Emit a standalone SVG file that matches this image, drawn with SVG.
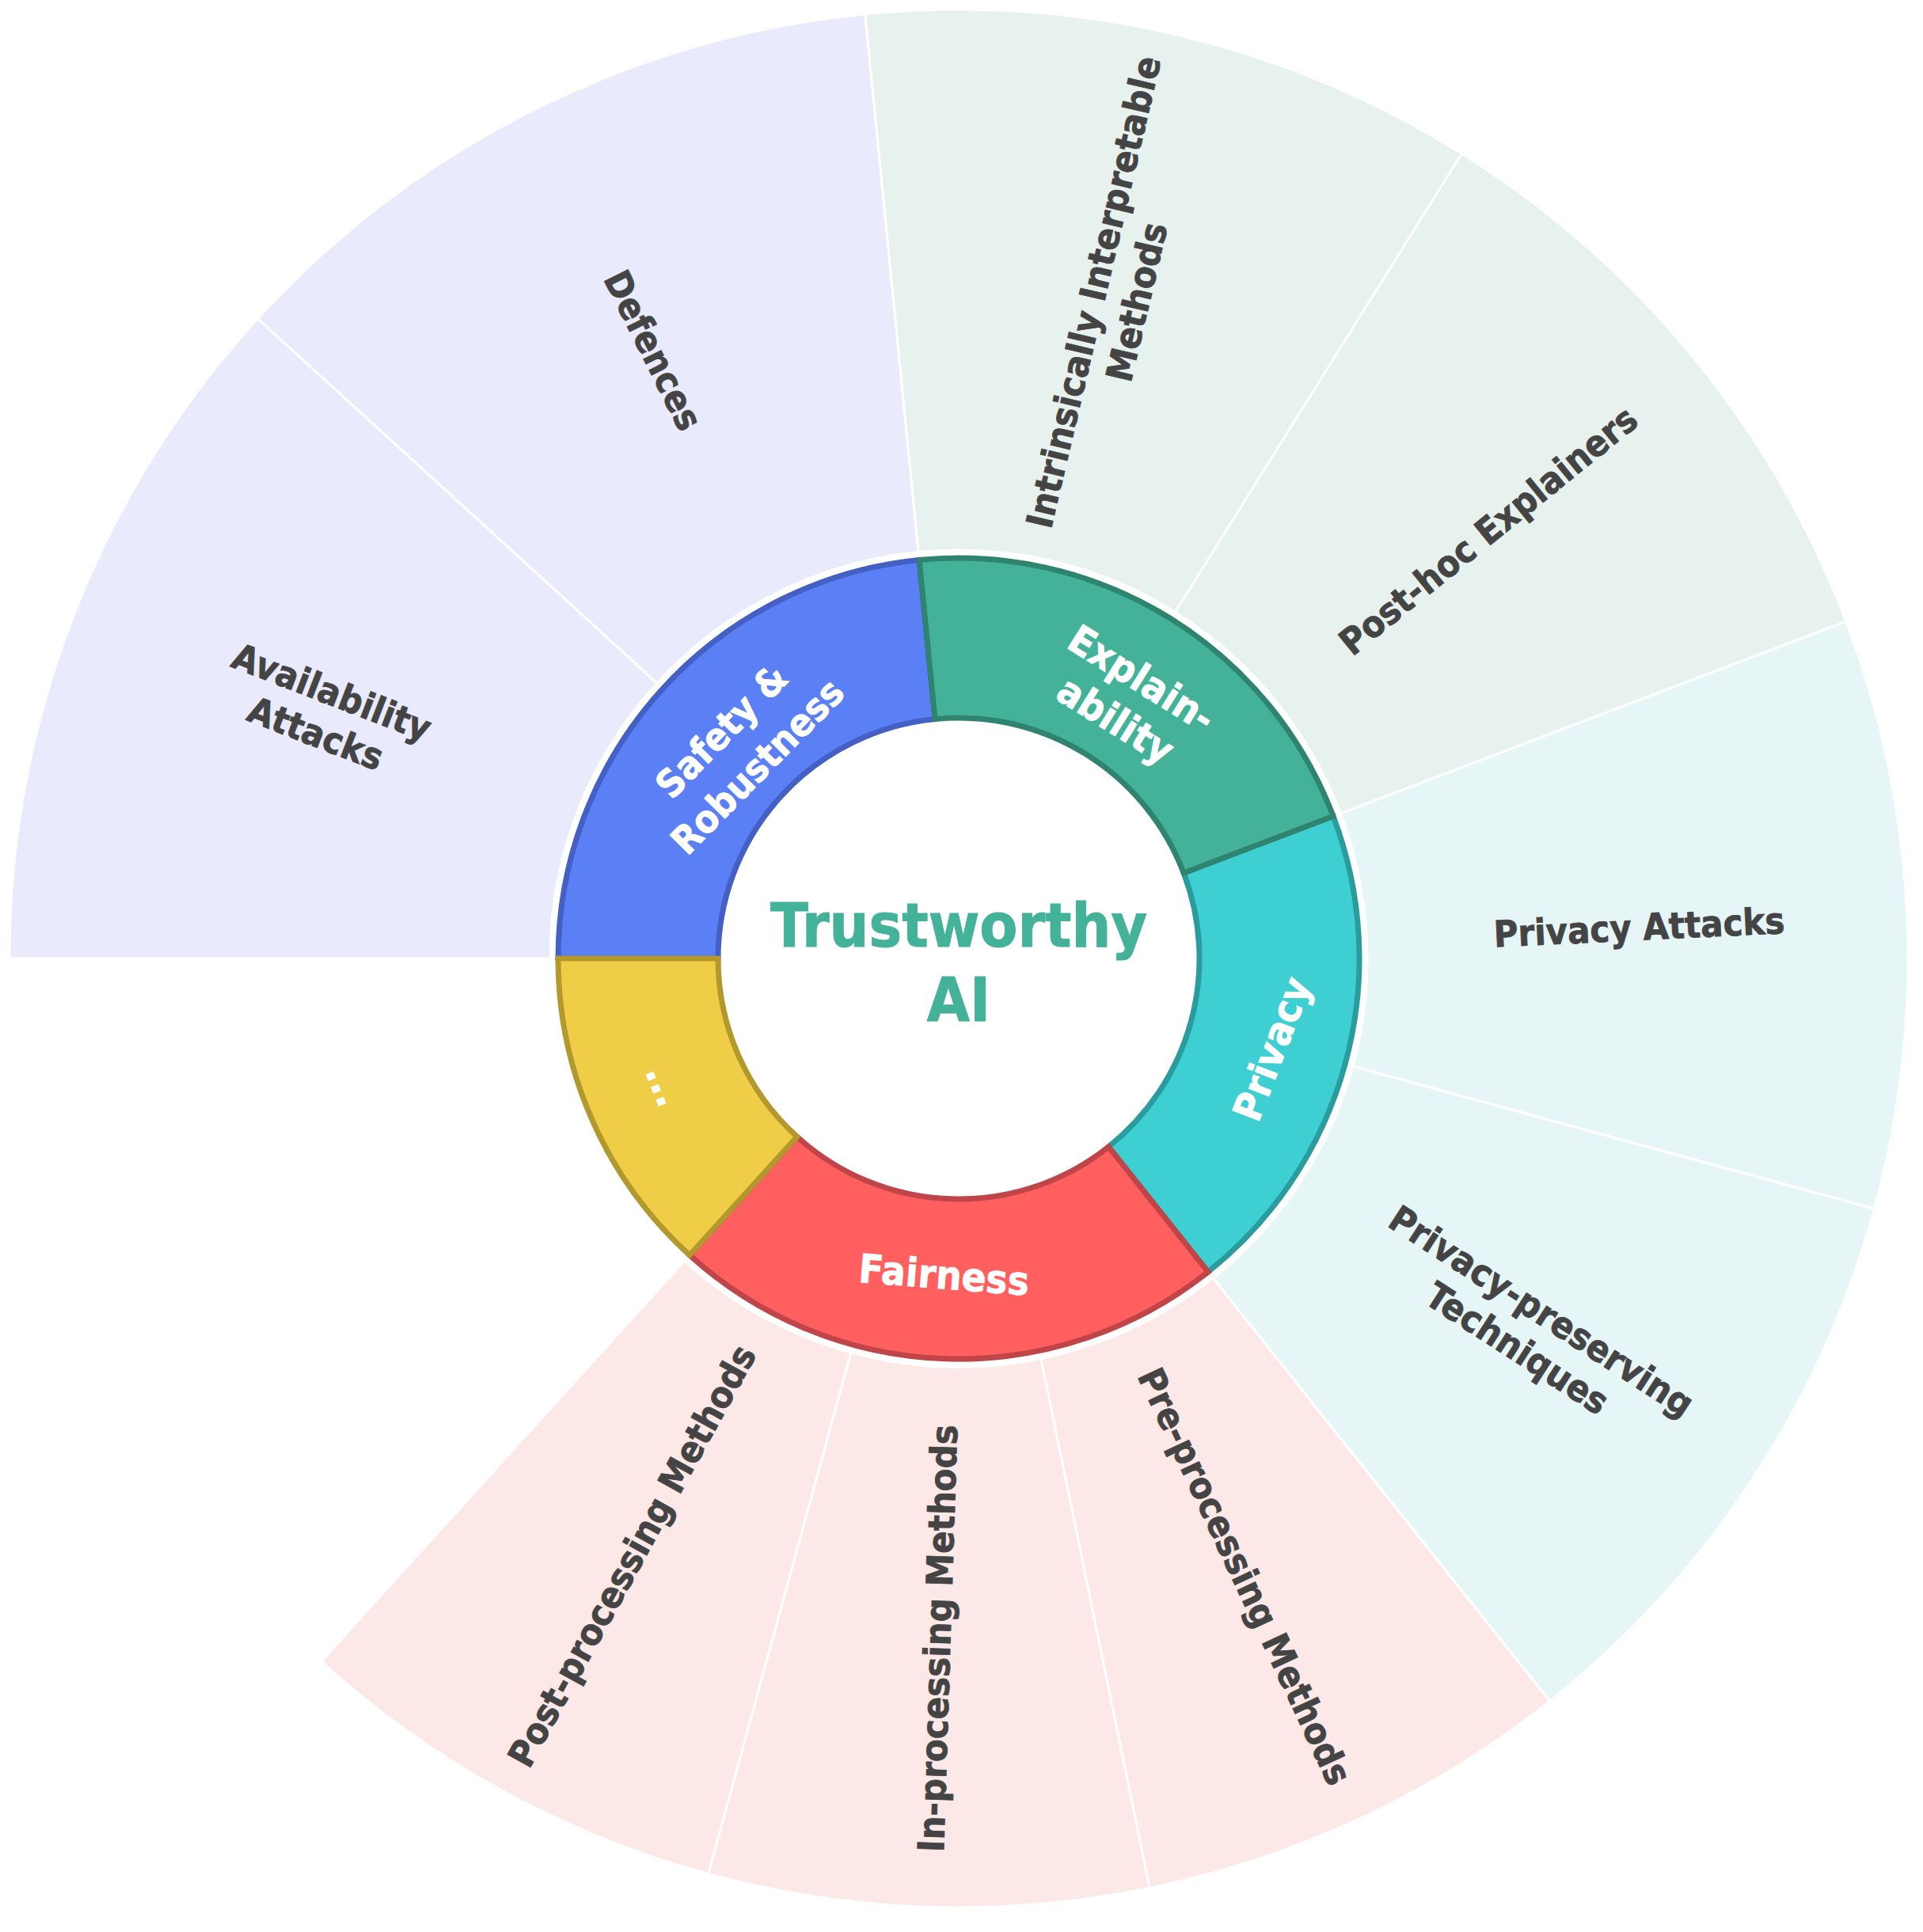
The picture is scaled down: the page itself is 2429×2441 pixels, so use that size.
<svg xmlns="http://www.w3.org/2000/svg" width="2429" height="2441" viewBox="0 0 2429 2441">
<style>
.t{font-family:"DejaVu Sans",Verdana,sans-serif;font-weight:bold;text-anchor:middle}
.ol{font-size:46px;fill:#444444;stroke:#444444;stroke-width:0.8}
.rl{font-size:50px;fill:#ffffff;stroke:#ffffff;stroke-width:0.8}
.ct{font-size:77px;fill:#43B298;stroke:#43B298;stroke-width:1}
.os{stroke:#ffffff;stroke-width:3}
.rs{stroke-width:7;stroke-linejoin:miter}
</style>
<rect width="2429" height="2441" fill="#ffffff"/>
<g id="outer-ring">
<g id="availability-attacks">
<path class="os" fill="#E9EAFB" d="M12,1211 A1199,1199 0 0 1 325.59,402.51 L829.96,863.06 A516,516 0 0 0 695,1211 Z"/>
<g transform="translate(409.2,900) rotate(21.2)"><text class="t ol" transform="scale(0.915,1)"><tspan x="0" y="-11.2">Availability</tspan><tspan x="0" y="44.8">Attacks</tspan></text></g>
</g>
<g id="defences">
<path class="os" fill="#E9EAFB" d="M325.59,402.51 A1199,1199 0 0 1 1092.75,17.85 L1160.11,697.52 A516,516 0 0 0 829.96,863.06 Z"/>
<g transform="translate(825.6,442.2) rotate(63.37)"><text class="t ol" transform="scale(0.915,1)" x="0" y="16.8">Defences</text></g>
</g>
<g id="intrinsically-interpretable-methods">
<path class="os" fill="#E7F1EE" d="M1092.75,17.85 A1199,1199 0 0 1 1846.37,194.19 L1484.44,773.41 A516,516 0 0 0 1160.11,697.52 Z"/>
<g transform="translate(1408,375) rotate(-76.83)"><text class="t ol" transform="scale(0.915,1)"><tspan x="0" y="-11.2">Intrinsically Interpretable</tspan><tspan x="0" y="44.8">Methods</tspan></text></g>
</g>
<g id="post-hoc-explainers">
<path class="os" fill="#E7F1EE" d="M1846.37,194.19 A1199,1199 0 0 1 2331.86,785.22 L1693.37,1027.76 A516,516 0 0 0 1484.44,773.41 Z"/>
<g transform="translate(1879.3,669.8) rotate(-39)"><text class="t ol" transform="scale(0.915,1)" x="0" y="16.8">Post-hoc Explainers</text></g>
</g>
<g id="privacy-attacks">
<path class="os" fill="#E6F5F6" d="M2331.86,785.22 A1199,1199 0 0 1 2367.52,1527.38 L1708.72,1347.16 A516,516 0 0 0 1693.37,1027.76 Z"/>
<g transform="translate(2070.4,1171) rotate(-2.75)"><text class="t ol" transform="scale(0.915,1)" x="0" y="16.8">Privacy Attacks</text></g>
</g>
<g id="privacy-preserving-techniques">
<path class="os" fill="#E6F5F6" d="M2367.52,1527.38 A1199,1199 0 0 1 1957.39,2149.35 L1532.22,1614.83 A516,516 0 0 0 1708.72,1347.16 Z"/>
<g transform="translate(1932.3,1679.4) rotate(33)"><text class="t ol" transform="scale(0.915,1)"><tspan x="0" y="-11.2">Privacy-preserving</tspan><tspan x="0" y="44.8">Techniques</tspan></text></g>
</g>
<g id="pre-processing-methods">
<path class="os" fill="#FDE8E8" d="M1957.39,2149.35 A1199,1199 0 0 1 1452.09,2385.52 L1314.76,1716.46 A516,516 0 0 0 1532.22,1614.83 Z"/>
<g transform="translate(1573,1991.5) rotate(64.95)"><text class="t ol" transform="scale(0.915,1)" x="0" y="16.8">Pre-processing Methods</text></g>
</g>
<g id="in-processing-methods">
<path class="os" fill="#FDE8E8" d="M1452.09,2385.52 A1199,1199 0 0 1 894.62,2367.51 L1074.84,1708.71 A516,516 0 0 0 1314.76,1716.46 Z"/>
<g transform="translate(1183.8,2070) rotate(-88.15)"><text class="t ol" transform="scale(0.915,1)" x="0" y="16.8">In-processing Methods</text></g>
</g>
<g id="post-processing-methods">
<path class="os" fill="#FDE8E8" d="M894.62,2367.51 A1199,1199 0 0 1 405.61,2099.22 L864.39,1593.25 A516,516 0 0 0 1074.84,1708.71 Z"/>
<g transform="translate(797.6,1965.4) rotate(-61.25)"><text class="t ol" transform="scale(0.915,1)" x="0" y="16.8">Post-processing Methods</text></g>
</g>
</g>
<g id="inner-ring">
<g id="safety-robustness">
<path class="rs" fill="#5B7FF5" stroke="#4460C4" d="M705,1211 A506,506 0 0 1 1161.10,707.47 L1181.02,908.48 A304,304 0 0 0 907,1211 Z"/>
<g transform="translate(933,945) rotate(-45.5)"><text class="t rl" style="font-size:48px" transform="scale(0.915,1)"><tspan x="0" y="-13.5">Safety &amp;</tspan><tspan x="0" y="50">Robustness</tspan></text></g>
</g>
<g id="privacy">
<path class="rs" fill="#3ECFD2" stroke="#2B9C9E" d="M1684.02,1031.31 A506,506 0 0 1 1525.99,1607.00 L1400.24,1448.91 A304,304 0 0 0 1495.19,1103.05 Z"/>
<g transform="translate(1606,1325) rotate(-69)"><text class="t rl" transform="scale(0.915,1)" x="0" y="18.25">Privacy</text></g>
</g>
<g id="explainability">
<path class="rs" fill="#43B298" stroke="#2F8470" d="M1161.10,707.47 A506,506 0 0 1 1684.02,1031.31 L1495.19,1103.05 A304,304 0 0 0 1181.02,908.48 Z"/>
<g transform="translate(1426,883) rotate(32)"><text class="t rl" transform="scale(0.915,1)"><tspan x="0" y="-12.75">Explain-</tspan><tspan x="0" y="49.25">ability</tspan></text></g>
</g>
<g id="fairness">
<path class="rs" fill="#FF5F5F" stroke="#C04549" d="M1525.99,1607.00 A506,506 0 0 1 871.11,1585.84 L1006.80,1436.20 A304,304 0 0 0 1400.24,1448.91 Z"/>
<g transform="translate(1192.5,1610) rotate(4.5)"><text class="t rl" transform="scale(0.915,1)" x="0" y="18.25">Fairness</text></g>
</g>
<g id="others">
<path class="rs" fill="#EFCD46" stroke="#B3982E" d="M871.11,1585.84 A506,506 0 0 1 705,1211 L907,1211 A304,304 0 0 0 1006.80,1436.20 Z"/>
<g transform="translate(841.2,1370.7) rotate(68)"><text class="t rl" transform="scale(0.915,1)" x="0" y="18.25">...</text></g>
</g>
</g>
<g id="trustworthy-ai">
<text class="t ct" transform="translate(1211,0) scale(0.91,1)"><tspan x="0" y="1196">Trustworthy</tspan><tspan x="0" y="1290">AI</tspan></text>
</g>
<g id="connectors"></g>
</svg>
